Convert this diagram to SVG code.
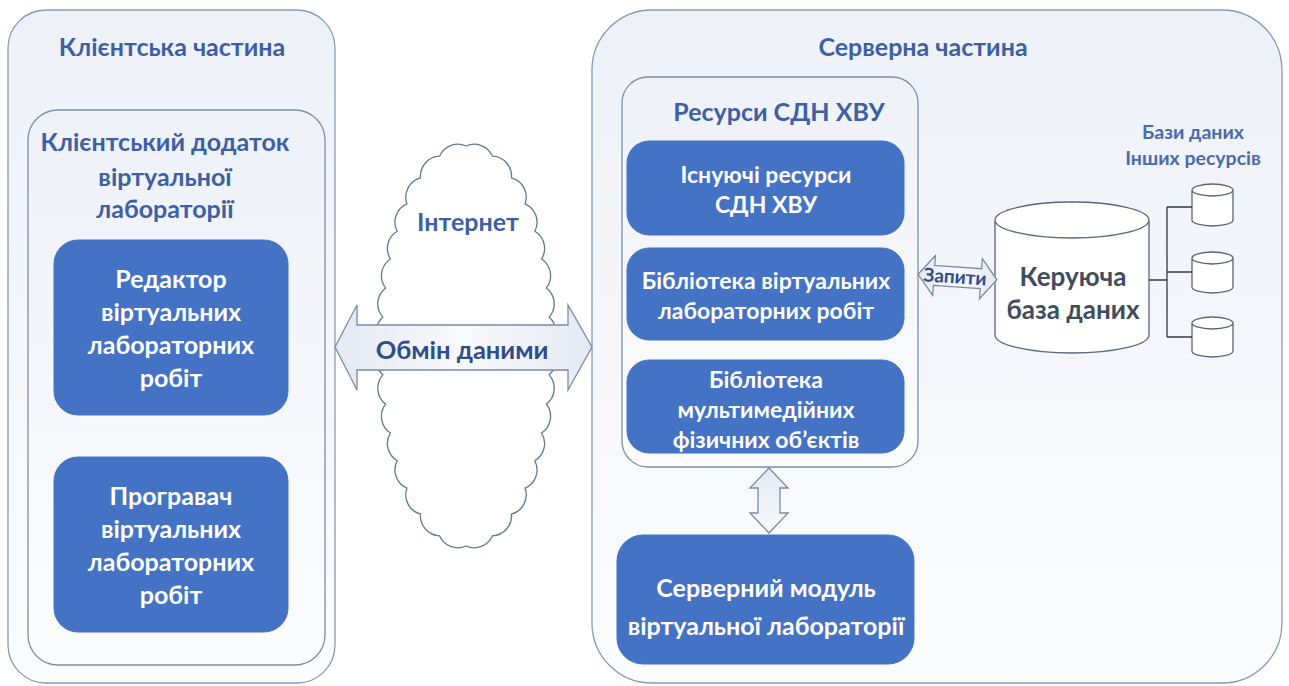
<svg xmlns="http://www.w3.org/2000/svg" width="1289" height="686" viewBox="0 0 1289 686">
<defs>
<linearGradient id="bg" x1="0" y1="0" x2="0" y2="1">
<stop offset="0" stop-color="#eef1f8"/>
<stop offset="1" stop-color="#fbfcfe"/>
</linearGradient>
<linearGradient id="arr" x1="0" y1="0" x2="1" y2="0">
<stop offset="0" stop-color="#e4e9f2"/>
<stop offset="0.5" stop-color="#f8f9fc"/>
<stop offset="1" stop-color="#e4e9f2"/>
</linearGradient>
<linearGradient id="arrv" x1="0" y1="0" x2="0" y2="1">
<stop offset="0" stop-color="#e4e9f2"/>
<stop offset="1" stop-color="#f8f9fc"/>
</linearGradient>
</defs>
<style>
.frame{fill:url(#bg);stroke:#8a9ab0;stroke-width:1.3}
.inner{fill:url(#bg);stroke:#7f8ea4;stroke-width:1.3}
.blue{fill:#4472c4;stroke:#4472c4}
.t{font-family:Lato,"Open Sans",sans-serif;font-weight:bold;text-anchor:middle;dominant-baseline:central}
.title{fill:#3d5fa6;font-size:25px}
.w{fill:#ffffff;font-size:25px}
.ws{fill:#ffffff;font-size:23px}
.db{fill:#ffffff;stroke:#5c6675;stroke-width:1.3}
.line{fill:none;stroke:#333a45;stroke-width:1.3}
.harrow{stroke:#7c8ba3;stroke-width:1.3}
</style>
<g id="client-part">
<rect class="frame" x="8" y="10" width="327" height="673" rx="38"/>
<text class="t title" x="172" y="46">Клієнтська частина</text>
</g>
<g id="client-app">
<rect class="inner" x="28" y="110" width="297" height="555" rx="30"/>
<text class="t title" x="165" y="141" font-size="26">Клієнтський додаток</text>
<text class="t title" x="165" y="176" font-size="26">віртуальної</text>
<text class="t title" x="165" y="208" font-size="26">лабораторії</text>
</g>
<g id="editor">
<rect class="blue" x="54" y="240" width="234" height="175" rx="24"/>
<text class="t w" x="171" y="278">Редактор</text>
<text class="t w" x="171" y="311">віртуальних</text>
<text class="t w" x="171" y="344">лабораторних</text>
<text class="t w" x="171" y="377">робіт</text>
</g>
<g id="player">
<rect class="blue" x="54" y="457" width="234" height="175" rx="24"/>
<text class="t w" x="171" y="495">Програвач</text>
<text class="t w" x="171" y="528">віртуальних</text>
<text class="t w" x="171" y="561">лабораторних</text>
<text class="t w" x="171" y="594">робіт</text>
</g>
<g id="server-part">
<rect class="frame" x="592" y="10" width="690" height="673" rx="60"/>
<text class="t title" x="923" y="46">Серверна частина</text>
</g>
<g id="internet">
<path fill="#ffffff" stroke="#66788f" stroke-width="1.3" d="M550,346 A20,20 0 0 1 549.1,374.9 A20,20 0 0 1 546.4,404.1 A20,20 0 0 1 541.6,433 A20,20 0 0 1 534.8,460.7 A20,20 0 0 1 525.1,488.2 A20,20 0 0 1 511.5,514.1 A20,20 0 0 1 492.5,535.8 A20,20 0 0 1 466,546 A20,20 0 0 1 439.5,535.8 A20,20 0 0 1 420.5,514.1 A20,20 0 0 1 406.9,488.2 A20,20 0 0 1 397.2,460.7 A20,20 0 0 1 390.4,433 A20,20 0 0 1 385.6,404.1 A20,20 0 0 1 382.9,374.9 A20,20 0 0 1 382,346 A20,20 0 0 1 382.9,317.1 A20,20 0 0 1 385.6,287.9 A20,20 0 0 1 390.4,259 A20,20 0 0 1 397.2,231.3 A20,20 0 0 1 406.9,203.8 A20,20 0 0 1 420.5,177.9 A20,20 0 0 1 439.5,156.2 A20,20 0 0 1 466,146 A20,20 0 0 1 492.5,156.2 A20,20 0 0 1 511.5,177.9 A20,20 0 0 1 525.1,203.8 A20,20 0 0 1 534.8,231.3 A20,20 0 0 1 541.6,259 A20,20 0 0 1 546.4,287.9 A20,20 0 0 1 549.1,317.1 A20,20 0 0 1 550,346 Z"/>
<text class="t title" x="468" y="221" font-size="23.5">Інтернет</text>
</g>
<g id="resources">
<rect class="inner" x="622" y="77" width="296" height="390" rx="26"/>
<text class="t title" x="779" y="111" font-size="24">Ресурси СДН ХВУ</text>
</g>
<g id="existing">
<rect class="blue" x="627" y="141" width="277" height="94" rx="22"/>
<text class="t ws" x="766" y="174">Існуючі ресурси</text>
<text class="t ws" x="766" y="204">СДН ХВУ</text>
</g>
<g id="library">
<rect class="blue" x="627" y="248" width="277" height="92" rx="22"/>
<text class="t ws" x="766" y="280">Бібліотека віртуальних</text>
<text class="t ws" x="766" y="310">лабораторних робіт</text>
</g>
<g id="multimedia">
<rect class="blue" x="627" y="360" width="277" height="93" rx="22"/>
<text class="t ws" x="766" y="379">Бібліотека</text>
<text class="t ws" x="766" y="409">мультимедійних</text>
<text class="t ws" x="766" y="439">фізичних об’єктів</text>
</g>
<g id="server-module">
<rect class="blue" x="617" y="535" width="297" height="129" rx="26"/>
<text class="t w" x="766" y="587" font-size="21.5">Серверний модуль</text>
<text class="t w" x="766" y="625" font-size="21.5">віртуальної лабораторії</text>
</g>
<g id="main-db">
<path class="db" d="M995,220 V335 A77,18 0 0 0 1149,335 V220 A77,18 0 0 0 995,220 A77,18 0 0 0 1149,220"/>
<text class="t" x="1073" y="276" font-size="26" fill="#404b5e">Керуюча</text>
<text class="t" x="1073" y="309" font-size="26" fill="#404b5e">база даних</text>
</g>
<g id="other-db">
<text class="t" x="1193" y="131" font-size="19.5" fill="#4a6bb0">Бази даних</text>
<text class="t" x="1193" y="157" font-size="19.5" fill="#4a6bb0">Інших ресурсів</text>
<path class="db" d="M1192,190 V220 A20.5,6 0 0 0 1233,220 V190 A20.5,6 0 0 0 1192,190 A20.5,6 0 0 0 1233,190"/>
<path class="db" d="M1192,258 V287 A20.5,6 0 0 0 1233,287 V258 A20.5,6 0 0 0 1192,258 A20.5,6 0 0 0 1233,258"/>
<path class="db" d="M1192,323 V351 A20.5,6 0 0 0 1233,351 V323 A20.5,6 0 0 0 1192,323 A20.5,6 0 0 0 1233,323"/>
</g>
<g id="connectors">
<path class="line" d="M1149,280 H1167 M1167,207 V337 M1167,207 H1192 M1167,272 H1192 M1167,337 H1192"/>
<path class="harrow" fill="url(#arr)" d="M335,347 L357,305 V325 H568 V305 L592,347 L568,390 V370 H357 V390 Z"/>
<text class="t" x="462" y="349" font-size="25.5" fill="#2f4c8c">Обмін даними</text>
<path class="harrow" fill="url(#arrv)" d="M769,468 L788,488 H780 V513 H788 L769,533 L750,513 H758 V488 H750 Z"/>
<g transform="rotate(4 957 277)">
<path class="harrow" fill="url(#arr)" d="M918,277 L934,257 V267 H981 V257 L997,277 L981,297 V287 H934 V297 Z"/>
<text class="t" x="955" y="276" font-size="19" fill="#2f4c8c">Запити</text>
</g>
</g>
</svg>
